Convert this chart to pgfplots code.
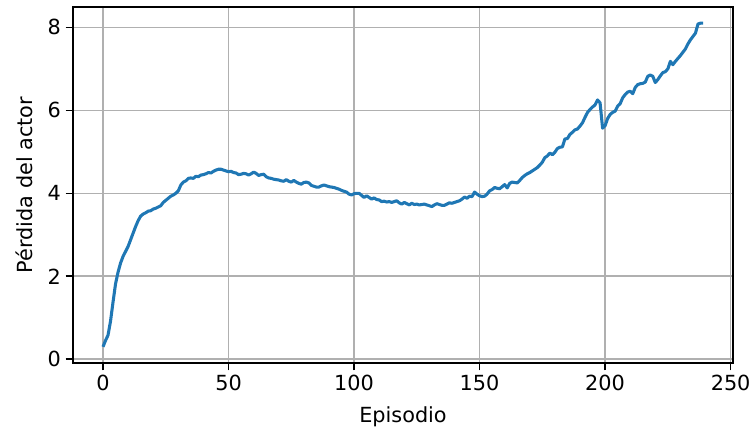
\documentclass[border=0pt]{standalone}
\usepackage{fontspec}
\setmainfont{DejaVu Sans}
\usepackage{pgfplots}
\usepackage{pgfplotstable}
\pgfplotsset{compat=1.18}
\definecolor{mplblue}{HTML}{1F77B4}
\definecolor{mplgrid}{HTML}{B0B0B0}
\pgfplotstableread{
e v
0 0.30
1 0.45
2 0.58
3 0.92
4 1.38
5 1.82
6 2.10
7 2.32
8 2.48
9 2.60
10 2.72
11 2.88
12 3.04
13 3.20
14 3.34
15 3.45
16 3.50
17 3.53
18 3.57
19 3.58
20 3.62
21 3.64
22 3.67
23 3.70
24 3.78
25 3.83
26 3.88
27 3.93
28 3.96
29 4.00
30 4.06
31 4.20
32 4.27
33 4.30
34 4.36
35 4.37
36 4.36
37 4.41
38 4.40
39 4.44
40 4.45
41 4.47
42 4.50
43 4.49
44 4.53
45 4.56
46 4.58
47 4.58
48 4.56
49 4.54
50 4.52
51 4.53
52 4.50
53 4.49
54 4.45
55 4.46
56 4.48
57 4.47
58 4.44
59 4.47
60 4.51
61 4.48
62 4.43
63 4.45
64 4.46
65 4.40
66 4.37
67 4.36
68 4.34
69 4.33
70 4.32
71 4.30
72 4.29
73 4.33
74 4.29
75 4.27
76 4.31
77 4.27
78 4.24
79 4.22
80 4.26
81 4.27
82 4.25
83 4.19
84 4.17
85 4.15
86 4.15
87 4.18
88 4.20
89 4.18
90 4.16
91 4.15
92 4.14
93 4.12
94 4.10
95 4.07
96 4.05
97 4.03
98 3.98
99 3.96
100 3.99
101 4.00
102 4.00
103 3.95
104 3.90
105 3.94
106 3.90
107 3.86
108 3.89
109 3.85
110 3.84
111 3.80
112 3.81
113 3.79
114 3.80
115 3.78
116 3.80
117 3.82
118 3.77
119 3.74
120 3.78
121 3.75
122 3.72
123 3.76
124 3.73
125 3.74
126 3.72
127 3.73
128 3.74
129 3.72
130 3.70
131 3.68
132 3.72
133 3.75
134 3.73
135 3.71
136 3.71
137 3.74
138 3.77
139 3.76
140 3.78
141 3.80
142 3.82
143 3.86
144 3.91
145 3.88
146 3.93
147 3.92
148 4.03
149 3.98
150 3.94
151 3.92
152 3.93
153 3.98
154 4.06
155 4.09
156 4.14
157 4.12
158 4.11
159 4.16
160 4.21
161 4.13
162 4.24
163 4.27
164 4.26
165 4.25
166 4.31
167 4.38
168 4.43
169 4.47
170 4.50
171 4.54
172 4.58
173 4.62
174 4.68
175 4.75
176 4.86
177 4.90
178 4.97
179 4.93
180 4.99
181 5.08
182 5.11
183 5.12
184 5.31
185 5.32
186 5.42
187 5.47
188 5.53
189 5.55
190 5.62
191 5.70
192 5.83
193 5.95
194 6.02
195 6.08
196 6.13
197 6.25
198 6.18
199 5.57
200 5.63
201 5.80
202 5.90
203 5.95
204 5.98
205 6.10
206 6.16
207 6.30
208 6.38
209 6.44
210 6.46
211 6.40
212 6.55
213 6.62
214 6.64
215 6.65
216 6.68
217 6.82
218 6.85
219 6.82
220 6.67
221 6.74
222 6.83
223 6.91
224 6.93
225 7.00
226 7.18
227 7.10
228 7.18
229 7.25
230 7.32
231 7.40
232 7.48
233 7.60
234 7.70
235 7.78
236 7.86
237 8.08
238 8.10
239 8.10
}\lossdata
\begin{document}
\begin{tikzpicture}
\begin{axis}[
  scale only axis, width=495pt, height=267pt,
  xmin=-11.95, xmax=250.95, ymin=-0.09, ymax=8.49,
  xtick={0,50,100,150,200,250}, ytick={0,2,4,6,8},
  tick pos=left, tick align=outside, major tick length=5.5pt,
  tick style={black, line width=1.2pt},
  axis line style={line width=1.2pt},
  grid=major, grid style={mplgrid, line width=1.2pt},
  font=\fontsize{15.6}{18}\selectfont,
  /pgf/number format/assume math mode=true,
  xlabel={Episodio}, ylabel={Pérdida del actor},
  xlabel style={yshift=-5pt},
  ylabel style={yshift=4.5pt},
  clip=true,
]
\addplot[mplblue, line width=2.3pt, line join=round, no markers] table[x=e, y=v] {\lossdata};
\end{axis}
\pgfresetboundingbox
\path ([shift={(-54.75pt,-52.5pt)}]current axis.south west) rectangle ([shift={(15pt,5.25pt)}]current axis.north east);
\end{tikzpicture}
\end{document}
